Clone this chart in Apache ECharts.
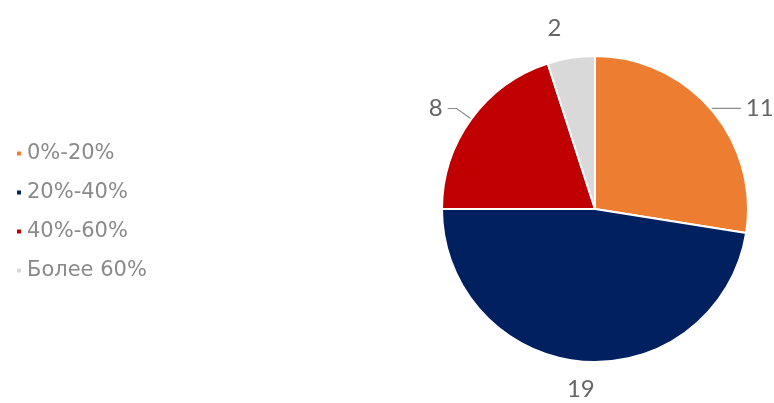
<!DOCTYPE html>
<html>
<head>
<meta charset="utf-8">
<script src="https://cdn.jsdelivr.net/npm/echarts@6/dist/echarts.min.js"></script>
<style>
  html, body { margin: 0; padding: 0; background: #fff; }
  #chart { width: 774px; height: 403px; }
</style>
</head>
<body>
<div id="chart"></div>
<script>
// Pie data
const categories = ['0%-20%', '20%-40%', '40%-60%', 'Более 60%'];
const values = [11, 19, 8, 2];
const colors = ['#ED7D31', '#002060', '#C00000', '#D9D9D9'];

// label line lengths per slice (first segment, second segment, visible)
const lineLen = [[2, 28, true], [28, 0, false], [18, 9, true], [30, 0, false]];

const chart = echarts.init(document.getElementById('chart'));

const option = {
    animation: false,
    backgroundColor: '#fff',
    legend: {
        orient: 'vertical',
        left: 10,
        top: 138,
        icon: 'rect',
        itemWidth: 6,
        itemHeight: 6,
        itemGap: 18,
        data: categories,
        textStyle: {
            fontSize: 21,
            color: '#8a8a8a',
            fontFamily: 'DejaVu Sans',
        },
    },
    series: [{
        type: 'pie',
        center: [595, 209],
        radius: 153,
        startAngle: 90,
        clockwise: true,
        data: categories.map((c, i) => ({
            name: c,
            value: values[i],
            itemStyle: { color: colors[i] },
            labelLine: {
                show: lineLen[i][2],
                length: lineLen[i][0],
                length2: lineLen[i][1],
            },
        })),
        itemStyle: {
            borderColor: '#fff',
            borderWidth: 2,
        },
        label: {
            show: true,
            formatter: '{c}',
            fontSize: 24,
            color: '#666666',
            fontFamily: 'Lato',
            overflow: 'none',
        },
        labelLine: {
            show: true,
            lineStyle: { color: '#8c8c8c', width: 1.2 },
        },
        // centre the bottom label under its slice like the original
        labelLayout: function (p) {
            if (p.dataIndex === 1 && p.labelLinePoints) {
                const end = p.labelLinePoints[p.labelLinePoints.length - 1];
                return { x: end[0], align: 'center' };
            }
        },
    }],
};

chart.setOption(option);
</script>
</body>
</html>
